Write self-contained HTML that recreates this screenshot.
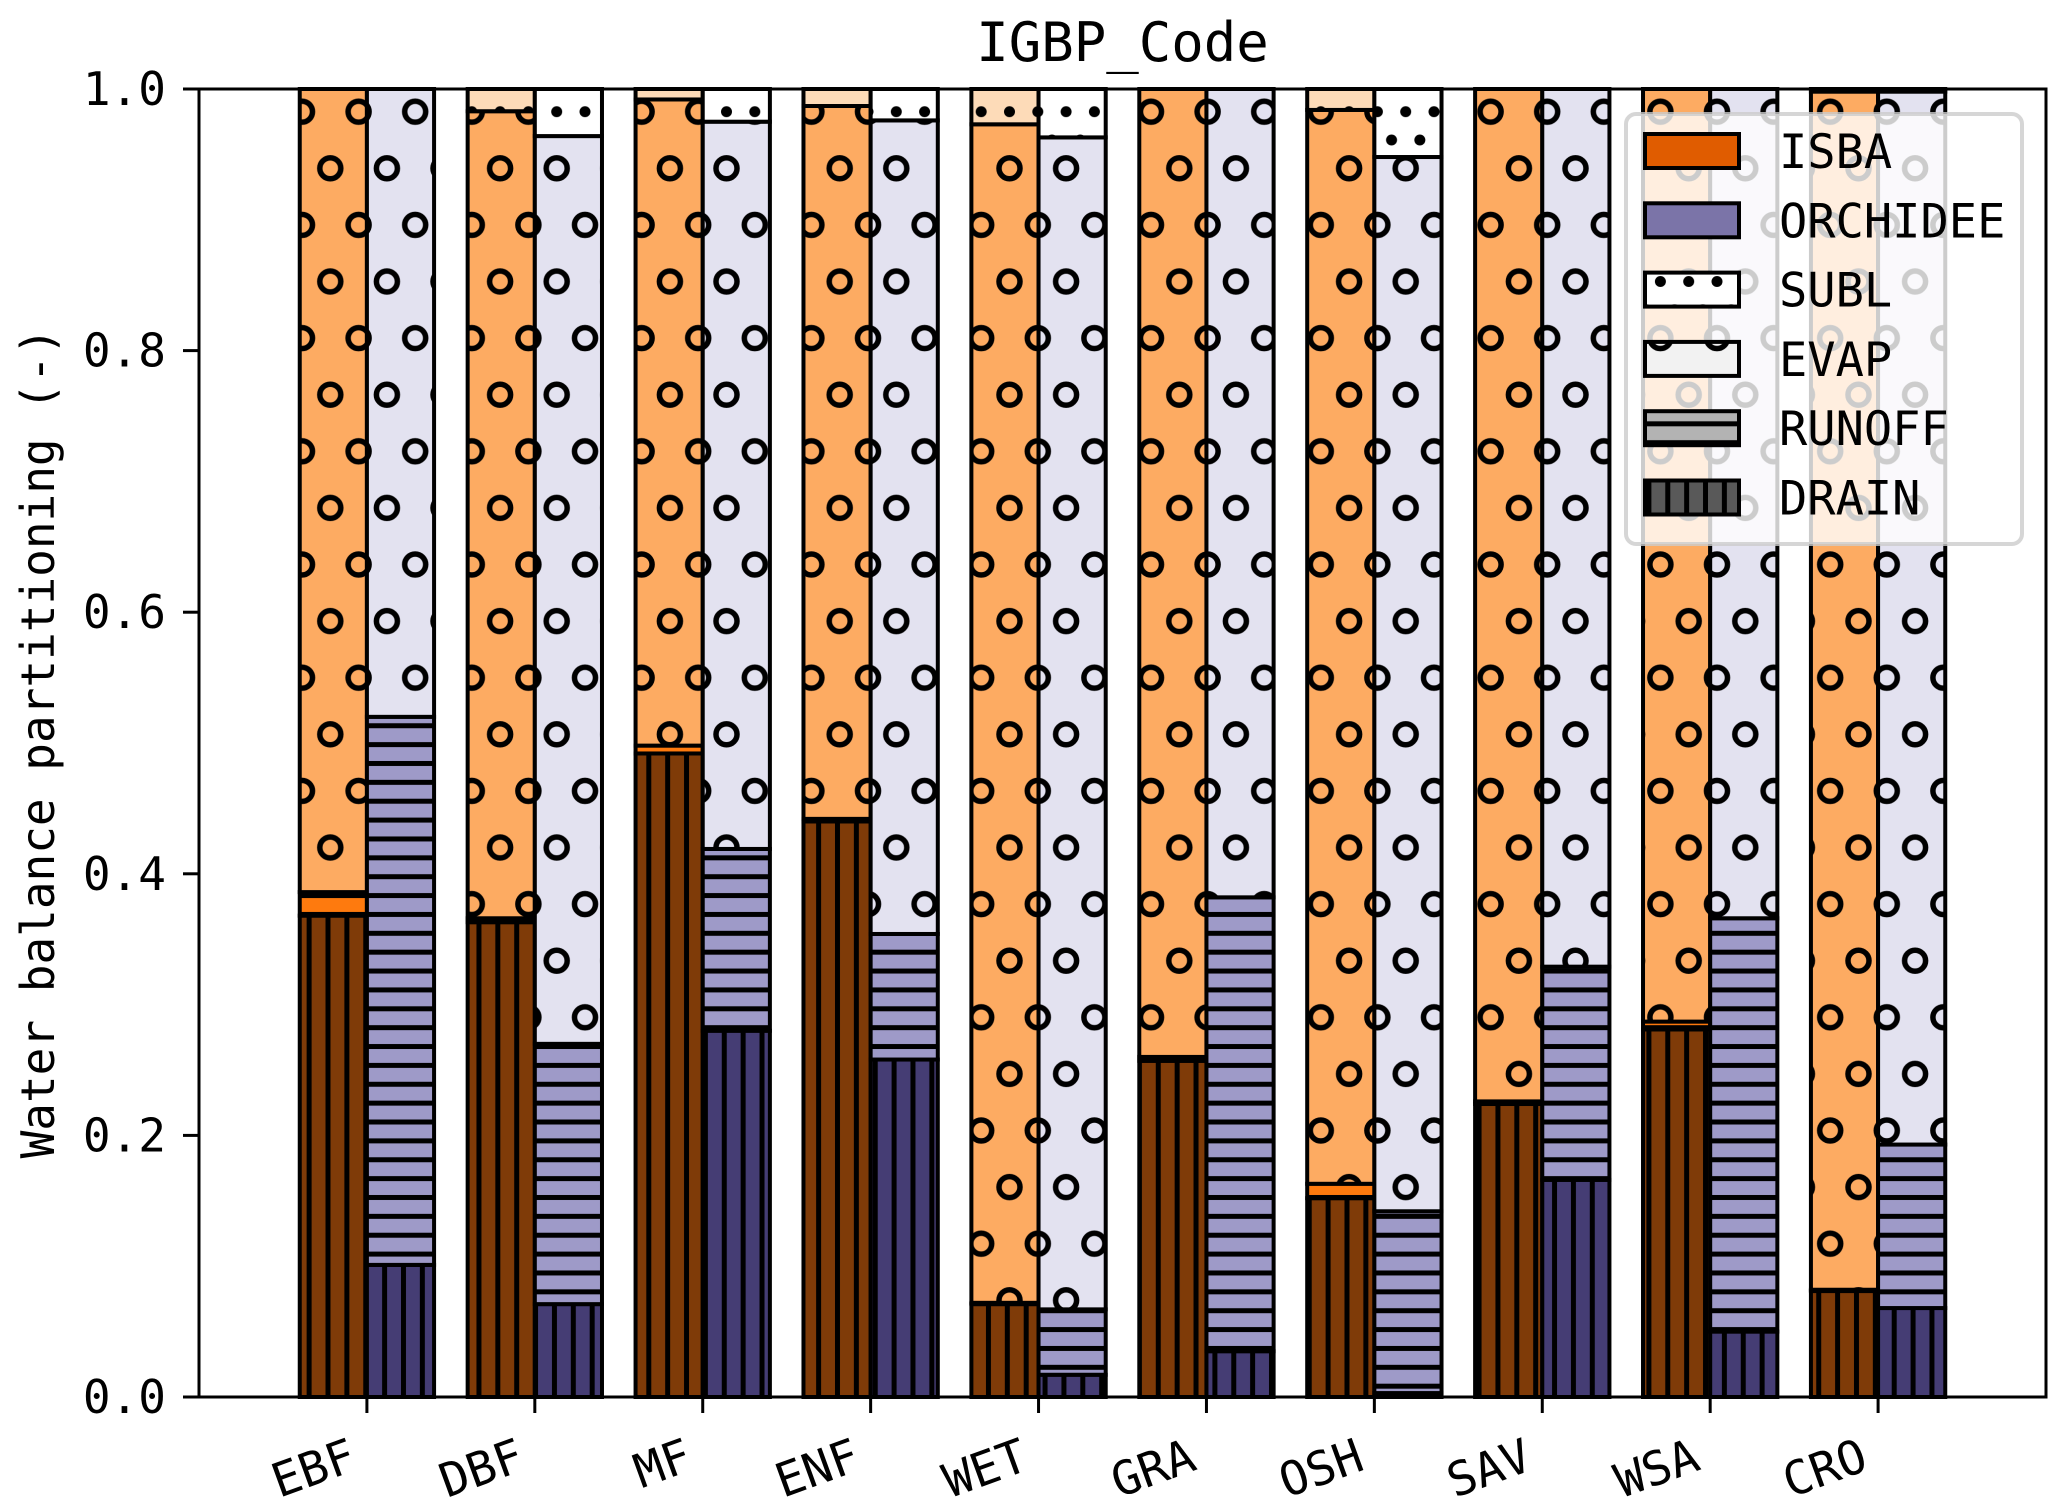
<!DOCTYPE html>
<html><head><meta charset="utf-8"><style>
html,body{margin:0;padding:0;background:#fff;}
svg{display:block;}
text{font-family:"DejaVu Sans Mono","Liberation Mono",monospace;fill:#000;}
</style></head><body>
<svg id="chart" width="2067" height="1511" viewBox="0 0 2067 1511">
<defs>
  <pattern id="pCirc" patternUnits="userSpaceOnUse" x="302" y="111.7" width="56.6" height="113.2">
    <g fill="none" stroke="#000" stroke-width="5.5">
      <circle cx="0" cy="0" r="10.5"/><circle cx="56.6" cy="0" r="10.5"/>
      <circle cx="28.3" cy="56.6" r="10.5"/>
      <circle cx="0" cy="113.2" r="10.5"/><circle cx="56.6" cy="113.2" r="10.5"/>
    </g>
  </pattern>
  <pattern id="pDots" patternUnits="userSpaceOnUse" x="302" y="111.7" width="28.3" height="56.6">
    <g fill="#000">
      <circle cx="0" cy="0" r="5.5"/><circle cx="28.3" cy="0" r="5.5"/>
      <circle cx="14.15" cy="28.3" r="5.5"/>
      <circle cx="0" cy="56.6" r="5.5"/><circle cx="28.3" cy="56.6" r="5.5"/>
    </g>
  </pattern>
  <pattern id="pH" patternUnits="userSpaceOnUse" x="0" y="876.7" width="40" height="18.87">
    <rect x="0" y="-2.5" width="40" height="5" fill="#000"/>
    <rect x="0" y="16.37" width="40" height="5" fill="#000"/>
  </pattern>
  <pattern id="pV" patternUnits="userSpaceOnUse" x="328" y="0" width="18.87" height="40">
    <rect x="-2.5" y="0" width="5" height="40" fill="#000"/>
    <rect x="16.37" y="0" width="5" height="40" fill="#000"/>
  </pattern>
</defs>
<g id="bars"></g>
<g id="axes"></g>
<g id="legend"></g>
</svg>
<script>
const categories = ["EBF","DBF","MF","ENF","WET","GRA","OSH","SAV","WSA","CRO"];
// ISBA fractions (drain, runoff, evap, subl)
const isbaDrain  = [0.368,0.363,0.492,0.440,0.071,0.257,0.152,0.224,0.281,0.081];
const isbaRunoff = [0.018,0.003,0.006,0.002,0.001,0.003,0.011,0.002,0.006,0.001];
const isbaEvap   = [0.614,0.617,0.494,0.545,0.901,0.740,0.821,0.774,0.713,0.916];
const isbaSubl   = [0.000,0.017,0.008,0.013,0.027,0.000,0.016,0.000,0.000,0.002];
// ORCHIDEE fractions
const orchDrain  = [0.101,0.071,0.280,0.258,0.017,0.035,0.003,0.166,0.050,0.068];
const orchRunoff = [0.419,0.199,0.139,0.096,0.050,0.347,0.139,0.163,0.316,0.125];
const orchEvap   = [0.480,0.694,0.556,0.622,0.896,0.618,0.806,0.671,0.634,0.805];
const orchSubl   = [0.000,0.036,0.025,0.024,0.037,0.000,0.052,0.000,0.000,0.002];
const yTicks = [0.0,0.2,0.4,0.6,0.8,1.0];
const yTickLabels = ["0.0","0.2","0.4","0.6","0.8","1.0"];

const NS="http://www.w3.org/2000/svg";
const L=199,R=2046,T=89,B=1397;
const xMin=-1.0,xMax=10.0;
function xs(v){return L+(v-xMin)/(xMax-xMin)*(R-L);}
function ys(v){return B-v*(B-T);}
function mk(tag,attrs,parent){const e=document.createElementNS(NS,tag);for(const k in attrs)e.setAttribute(k,attrs[k]);parent.appendChild(e);return e;}

const bars=document.getElementById('bars');
const isbaCols=["#7f3b08","#fe7a0e","#fdab62","#fddbb8"];
const orchCols=["#453d74","#9e9ac8","#e3e2f0","#ffffff"];
const hatches=["url(#pV)","url(#pH)","url(#pCirc)","url(#pDots)"];
const compNames=["drain","runoff","evap","subl"];
function drawStack(i,offset,series,cols,model){
  const w=xs(0.4)-xs(0);
  const x0=xs(i+offset)-w/2;
  let base=0;
  for(let k=0;k<4;k++){
    const v=series[k][i];
    if(v<=0){continue;}
    const y1=ys(base+v),y0=ys(base);
    const g=mk('g',{},bars);
    
    
    mk('rect',{x:x0,y:y1,width:w,height:y0-y1,fill:cols[k]},g);
    mk('rect',{x:x0,y:y1,width:w,height:y0-y1,fill:hatches[k]},g);
    mk('rect',{x:x0,y:y1,width:w,height:y0-y1,fill:'none',stroke:'#000','stroke-width':4},g);
    base+=v;
  }
}
categories.forEach((c,i)=>{
  drawStack(i,-0.2,[isbaDrain,isbaRunoff,isbaEvap,isbaSubl],isbaCols,'isba');
  drawStack(i,0.2,[orchDrain,orchRunoff,orchEvap,orchSubl],orchCols,'orchidee');
});

const ax=document.getElementById('axes');
const frame=mk('rect',{x:L,y:T,width:R-L,height:B-T,fill:'none',stroke:'#000','stroke-width':3},ax);


yTicks.forEach((v,j)=>{
  const y=ys(v);
  const t=mk('line',{x1:L-16,x2:L,y1:y,y2:y,stroke:'#000','stroke-width':3},ax);
  
  
  const lb=mk('text',{x:166,y:y+16,'text-anchor':'end','font-size':46},ax);
  lb.textContent=yTickLabels[j];
  
  
});
categories.forEach((c,i)=>{
  const x=xs(i);
  const t=mk('line',{x1:x,x2:x,y1:B,y2:B+16,stroke:'#000','stroke-width':3},ax);
  
  
  const lb=mk('text',{x:x-8,y:B+72,'text-anchor':'end','font-size':47,transform:'rotate(-20 '+(x-8)+' '+(B+72)+')'},ax);
  lb.textContent=c;
  
  
});
const yl=mk('text',{x:0,y:0,'text-anchor':'middle','font-size':46,transform:'translate(54 '+((T+B)/2)+') rotate(-90)'},ax);
yl.textContent="Water balance partitioning (-)";


const tt=mk('text',{x:(L+R)/2,y:61,'text-anchor':'middle','font-size':54},ax);
tt.textContent="IGBP_Code";



const lg=document.getElementById('legend');
mk('rect',{x:1626,y:114,width:396,height:430,rx:10,fill:'#fff','fill-opacity':0.8,stroke:'#cccccc','stroke-opacity':0.8,'stroke-width':4},lg);
const legNames=["ISBA","ORCHIDEE","SUBL","EVAP","RUNOFF","DRAIN"];
const legCols=["#e05c00","#7b74a8","#ffffff","#f2f2f2","#b3b3b3","#595959"];
const legHatch=[null,null,"url(#pDots)","url(#pCirc)","url(#pH)","url(#pV)"];
legNames.forEach((n,j)=>{
  const y=134+j*69.3;
  const g=mk('g',{},lg);
  
  
  mk('rect',{x:1645,y:y,width:94,height:34,fill:legCols[j]},g);
  if(legHatch[j])mk('rect',{x:1645,y:y,width:94,height:34,fill:legHatch[j]},g);
  mk('rect',{x:1645,y:y,width:94,height:34,fill:'none',stroke:'#000','stroke-width':4},g);
  const tx=mk('text',{x:1779,y:y+34,'font-size':47},g);
  tx.textContent=n;
});
</script>
</body></html>
